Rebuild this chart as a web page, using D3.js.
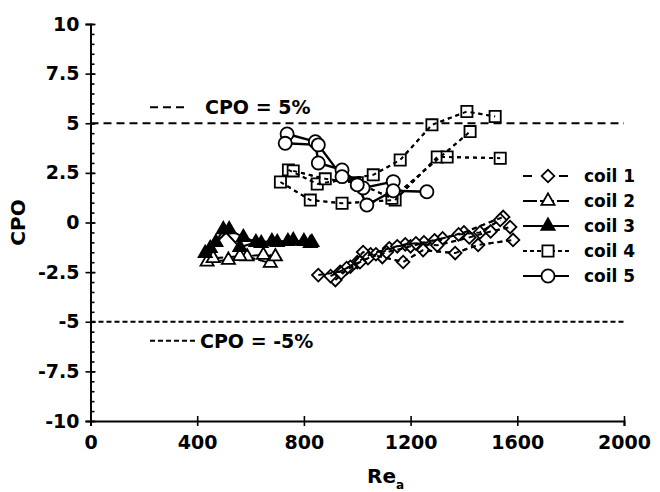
<!DOCTYPE html>
<html>
<head>
<meta charset="utf-8">
<script src="https://cdn.jsdelivr.net/npm/d3@7"></script>
<style>
  body { margin: 0; background: #fff; }
  svg text { font-family: "DejaVu Sans", "Liberation Sans", Arial, sans-serif; font-weight: bold; fill: #000; }
</style>
</head>
<body>
<div id="chart"></div>
<script>
// tick values
var xTicks = [0, 400, 800, 1200, 1600, 2000];
var yTicks = [-10, -7.5, -5, -2.5, 0, 2.5, 5, 7.5, 10];
var refLines = [5, -5];
var refLabels = ["CPO = 5%", "CPO = -5%"];
var coilNames = ["coil 1", "coil 2", "coil 3", "coil 4", "coil 5"];

// each coil: several runs of [Re, CPO]
var coil1Runs = [
  [[854,-2.65],[936,-2.48],[1000,-2.0],[1050,-1.6],[1120,-1.3],[1180,-1.1],[1250,-1.0],[1320,-0.8],[1400,-0.5],[1547,0.28]],
  [[918,-2.9],[974,-2.23],[1022,-1.49],[1094,-1.74],[1172,-1.99],[1247,-1.39],[1367,-1.54],[1453,-1.13],[1584,-0.88]],
  [[900,-2.7],[960,-2.3],[1040,-1.8],[1110,-1.5],[1200,-1.2],[1290,-0.9],[1380,-0.6],[1460,-0.5],[1536,0.13]],
  [[940,-2.55],[1010,-2.0],[1070,-1.6],[1150,-1.2],[1220,-1.05],[1300,-1.15],[1420,-0.75],[1500,-0.45],[1573,-0.23]]
];
var coil2Runs = [
  [[437,-1.98],[517,-1.89],[587,-1.72],[674,-2.04]],
  [[460,-1.8],[560,-1.7],[648,-1.64],[693,-1.72]]
];
var coil3Runs = [
  [[430,-1.55],[470,-1.0],[498,-0.35],[560,-1.25],[620,-1.0],[680,-0.95],[740,-0.95],[800,-0.95],[830,-1.0]],
  [[449,-1.3],[520,-0.35],[573,-0.75],[640,-1.05],[700,-1.0],[760,-0.9],[824,-1.05]]
];
var coil4Runs = [
  [[712,2.04],[824,1.13],[943,0.97],[1142,1.13],[1300,3.3],[1337,3.3],[1536,3.24]],
  [[742,2.65],[850,1.94],[1060,2.4],[1161,3.15],[1280,4.92],[1411,5.59],[1517,5.34]],
  [[760,2.6],[880,2.2],[1000,2.0],[1130,1.22],[1423,4.58]]
];
var coil5Runs = [
  [[737,4.46],[843,4.07],[854,3.0],[943,2.65],[1022,1.74],[1135,2.06]],
  [[730,3.99],[854,3.91],[943,2.31],[1000,1.9],[1036,0.88],[1135,1.6],[1261,1.55]]
];

var W = 660, H = 492;
var svg = d3.select('#chart').append('svg')
  .attr('width', W).attr('height', H);

var x = d3.scaleLinear().domain([0, 2000]).range([90.5, 624]);
var y = d3.scaleLinear().domain([-10, 10]).range([421, 24]);

// reference lines
var refDash = ['8,5', '5,3'];
svg.selectAll('.ref').data(refLines).enter().append('line')
  .attr('x1', x(0)).attr('x2', x(2000))
  .attr('y1', function(d) { return y(d); }).attr('y2', function(d) { return y(d); })
  .attr('stroke', '#000').attr('stroke-width', 2)
  .attr('stroke-dasharray', function(d, i) { return refDash[i]; });

// ref line annotations
var annY = [y(5) - 16, y(-5) + 19];
refLabels.forEach(function(t, i) {
  svg.append('line').attr('x1', 150).attr('x2', i ? 196 : 188)
    .attr('y1', annY[i]).attr('y2', annY[i])
    .attr('stroke', '#000').attr('stroke-width', 2).attr('stroke-dasharray', refDash[i]);
  svg.append('text').attr('x', i ? 200 : 205).attr('y', annY[i] + 7)
    .attr('font-size', 19).text(t);
});

// axes
var yAxisL = d3.axisLeft(y).tickValues(yTicks).tickSize(5).tickPadding(6)
  .tickFormat(function(d) { return String(d); });
var yAxisR = d3.axisRight(y).tickValues(yTicks).tickSize(5).tickFormat('');
var yMinor = d3.axisRight(y).tickValues(d3.range(-10, 10.01, 0.5)).tickSize(4).tickFormat('');
var xAxisB = d3.axisBottom(x).tickValues(xTicks).tickSize(5).tickPadding(10)
  .tickFormat(function(d) { return String(d); });
var xAxisT = d3.axisTop(x).tickValues(xTicks).tickSize(5).tickFormat('');

function styleAxis(g) {
  g.select('.domain').attr('stroke-width', 2);
  g.selectAll('.tick line').attr('stroke-width', 1.6);
  g.selectAll('.tick text').attr('font-size', 19).style('font-weight', 'bold')
    .style('font-family', '"DejaVu Sans", "Liberation Sans", Arial, sans-serif');
}
svg.append('g').attr('transform', 'translate(' + x(0) + ',0)').call(yMinor).call(styleAxis)
  .select('.domain').remove();
svg.append('g').attr('transform', 'translate(' + x(0) + ',0)').call(yAxisR).call(styleAxis)
  .select('.domain').remove();
svg.append('g').attr('transform', 'translate(' + x(0) + ',0)').call(yAxisL).call(styleAxis);
svg.append('g').attr('transform', 'translate(0,' + y(-10) + ')').call(xAxisT).call(styleAxis)
  .select('.domain').remove();
svg.append('g').attr('transform', 'translate(0,' + y(-10) + ')').call(xAxisB).call(styleAxis);
svg.selectAll('.domain').attr('stroke', '#000');

// axis titles
svg.append('text').attr('transform', 'translate(25,' + y(0) + ') rotate(-90)')
  .attr('text-anchor', 'middle').attr('font-size', 20).text('CPO');
var xt = svg.append('text').attr('x', 367).attr('y', 483).attr('font-size', 20);
xt.append('tspan').text('Re');
xt.append('tspan').attr('dy', 6).attr('font-size', 12).text('a');

// series styles
var coils = [
  { runs: coil1Runs, dash: '5,4', shape: 'diamond', fill: '#fff', over: true },
  { runs: coil2Runs, dash: '10,3', shape: 'triangle', fill: '#fff', over: false },
  { runs: coil3Runs, dash: null, shape: 'triangle', fill: '#000', over: false },
  { runs: coil4Runs, dash: '4,4', shape: 'square', fill: '#fff', over: true },
  { runs: coil5Runs, dash: null, shape: 'circle', fill: '#fff', over: false }
];

var shapes = {
  diamond: d3.symbol().type(d3.symbolSquare).size(80)(),
  triangle: d3.symbol().type(d3.symbolTriangle).size(75)(),
  square: d3.symbol().type(d3.symbolSquare).size(125)(),
  circle: d3.symbol().type(d3.symbolCircle).size(135)()
};
function rot(s) { return s === 'diamond' ? ' rotate(45)' : ''; }

var line = d3.line()
  .x(function(d) { return x(d[0]); })
  .y(function(d) { return y(d[1]); });

function drawLines(c) {
  svg.append('g').selectAll('path').data(c.runs).enter().append('path')
    .attr('d', line).attr('fill', 'none').attr('stroke', '#000')
    .attr('stroke-width', c.shape === 'circle' ? 2.4 : 2)
    .attr('stroke-dasharray', c.dash);
}
function drawMarks(c) {
  var pts = [].concat.apply([], c.runs);
  svg.append('g').selectAll('path').data(pts).enter().append('path')
    .attr('d', shapes[c.shape])
    .attr('transform', function(d) { return 'translate(' + x(d[0]) + ',' + y(d[1]) + ')' + rot(c.shape); })
    .attr('fill', c.fill).attr('stroke', '#000').attr('stroke-width', 1.8);
}

coils.forEach(function(c) {
  drawLines(c);
  drawMarks(c);
  if (c.over) drawLines(c);
});

// legend
var legY = [176, 201, 226, 251, 276];
coils.forEach(function(c, i) {
  var g = svg.append('g').attr('transform', 'translate(0,' + legY[i] + ')');
  g.append('line').attr('x1', 523).attr('x2', 569).attr('y1', 0).attr('y2', 0)
    .attr('stroke', '#000').attr('stroke-width', 2)
    .attr('stroke-dasharray', i === 0 ? '9,27,9' : (i === 3 ? '4,3' : (i === 1 ? '14,3' : null)));
  g.append('path').attr('d', shapes[c.shape])
    .attr('transform', 'translate(548,0)' + rot(c.shape))
    .attr('fill', c.fill).attr('stroke', '#000').attr('stroke-width', 1.8);
  g.append('text').attr('x', 584).attr('y', 6).attr('font-size', 17).text(coilNames[i]);
});
</script>
</body>
</html>
